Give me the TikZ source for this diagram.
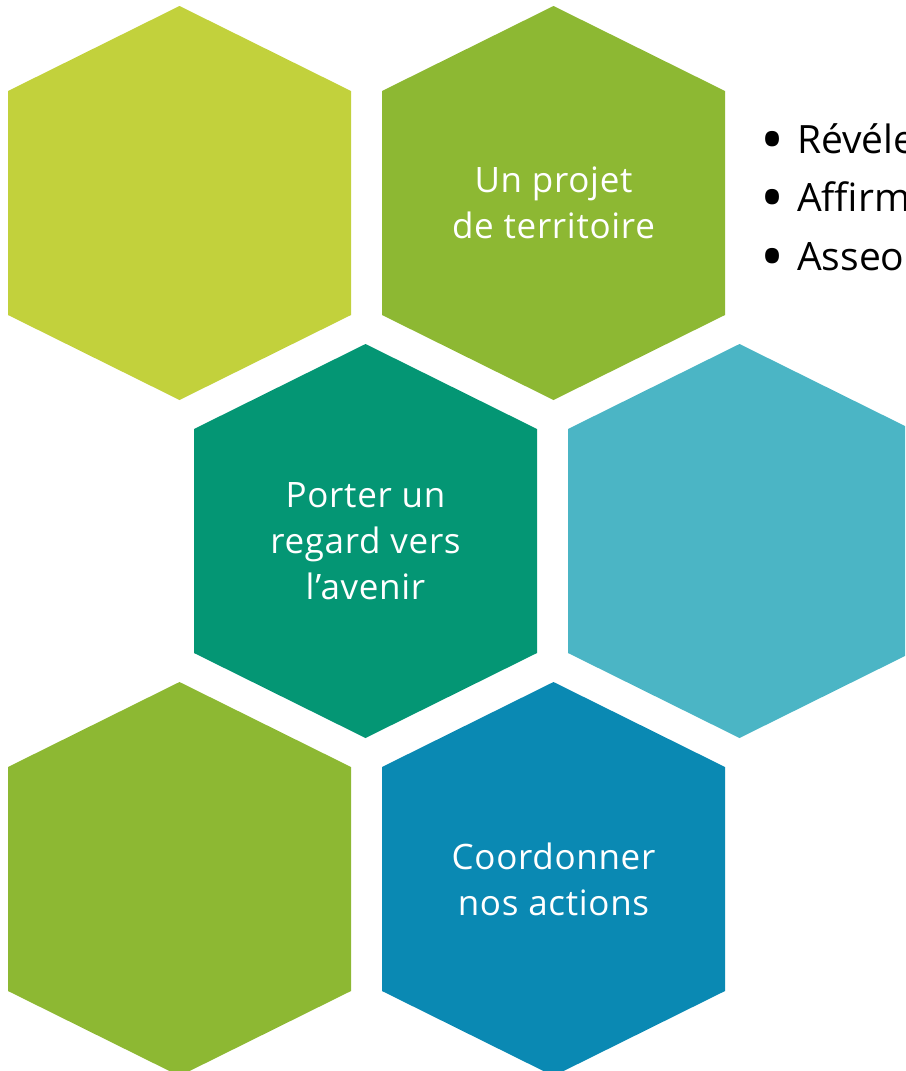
\documentclass[tikz,border=0pt]{standalone}
\usepackage{fontspec}
\setmainfont{Open Sans}
\newfontfamily\hexfont{Open Sans}[LetterSpace=2]
\definecolor{cLime}{HTML}{C2D13C}
\definecolor{cGreen}{HTML}{8DB833}
\definecolor{cTeal}{HTML}{049674}
\definecolor{cSky}{HTML}{4BB5C5}
\definecolor{cBlue}{HTML}{0A89B3}
\newcommand\hexpath[2]{(#1,#2-197) -- (#1+171.5,#2-112) -- (#1+171.5,#2+112) -- (#1,#2+197) -- (#1-171.5,#2+112) -- (#1-171.5,#2-112) -- cycle}
\newcommand\bigbul{\makebox[37pt][l]{\raisebox{-9pt}{\fontsize{64}{64}\selectfont •}}}
\begin{document}
\begin{tikzpicture}[x=1pt,y=-1pt,
  hextext/.style={text=white, align=center, inner sep=0pt, font=\hexfont\fontsize{35}{46}\selectfont},
  bullettext/.style={text=black, anchor=base west, inner sep=0pt, font=\fontsize{39}{50}\selectfont}]
\useasboundingbox (0,0) rectangle (905,1071);
\clip (0,0) rectangle (905,1071);
\fill[cLime]  \hexpath{179.5}{203};
\fill[cGreen] \hexpath{553.5}{203};
\fill[cTeal]  \hexpath{365.5}{541};
\fill[cSky]   \hexpath{739.5}{541};
\fill[cGreen] \hexpath{179.5}{879};
\fill[cBlue]  \hexpath{553.5}{879};
\coordinate (h2) at (553.5,203);
\coordinate (h3) at (365.5,541);
\coordinate (h6) at (553.5,879);
\node[hextext] (t2) at (h2) {Un projet\\de territoire};
\node[hextext] (t3) at (h3) {Porter un\\regard vers\\l’avenir};
\node[hextext] (t6) at (h6) {Coordonner\\nos actions};
\node[bullettext] (b1) at (760,153) {\bigbul Révéle};
\node[bullettext] (b2) at (760,211.5) {\bigbul Affirm};
\node[bullettext] (b3) at (760,270) {\bigbul Asseo};
\end{tikzpicture}
\end{document}
